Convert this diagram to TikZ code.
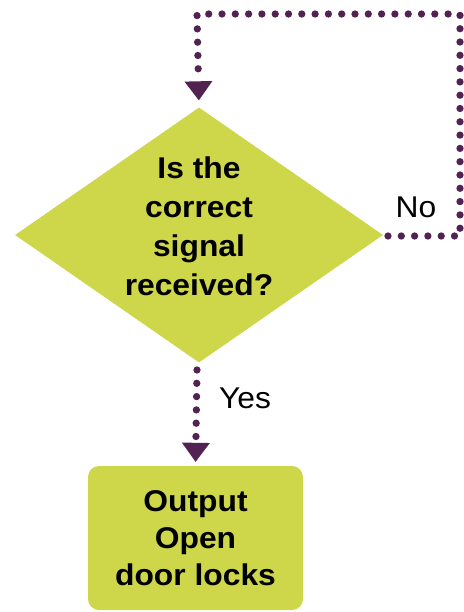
\documentclass[tikz,border=0pt]{standalone}
\usepackage{fontspec}
\setmainfont[FakeStretch=1.06]{Liberation Sans}
\usetikzlibrary{shapes.geometric,arrows.meta}
\definecolor{lime}{RGB}{206,214,74}
\definecolor{plum}{RGB}{82,34,82}
\begin{document}
\begin{tikzpicture}[x=1pt,y=-1pt,
  dec/.style={diamond,fill=lime,draw=none,minimum width=368pt,minimum height=255pt,inner sep=0pt},
  outbox/.style={rectangle,rounded corners=11pt,fill=lime,minimum width=215pt,minimum height=144pt,inner sep=0pt,
    font=\fontsize{30}{37}\selectfont\bfseries,align=center,text=black},
  btext/.style={font=\fontsize{30}{39}\selectfont\bfseries,align=center,text=black},
  lbl/.style={font=\fontsize{30}{36}\selectfont,text=black,anchor=base,inner sep=0pt},
  flow/.style={draw=plum,line width=7.3pt,line cap=round,dash pattern=on 0pt off 13.3pt},
  tip/.style={-{Triangle[length=19pt,width=28pt,line width=0pt]}}
]
\useasboundingbox (0,0) rectangle (463,612);
\node[dec] (d) at (199,235) {};
\node[btext] (dt) at ([yshift=9pt]d.center) {Is the\\correct\\signal\\received?};
\node[outbox] (out) at (195.5,538) {Output\\Open\\door locks};
\coordinate (c1) at (460,236);
\coordinate (c2) at (460,14);
\coordinate (c3) at (197,14);
\coordinate (s0) at (388,236);
\coordinate (s1) at (197,370);
\draw[flow,tip,shorten >=7pt] (s0) -- (c1) -- (c2) -- (c3) -- (d.north);
\draw[flow,tip,shorten >=4pt] (s1) -- (out.north);
\node[lbl] (no) at (416,218) {No};
\node[lbl] (yes) at (245,408) {Yes};
\end{tikzpicture}
\end{document}
